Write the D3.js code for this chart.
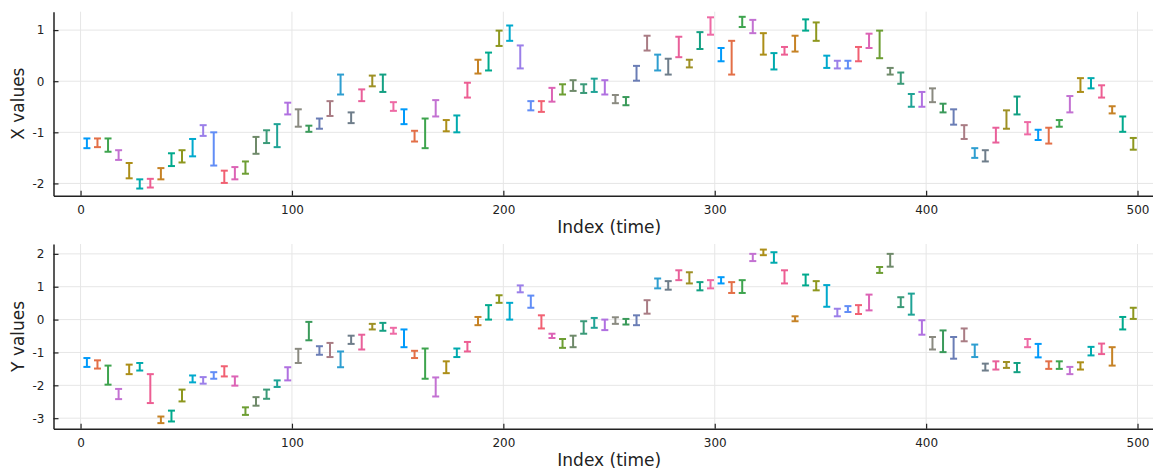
<!DOCTYPE html>
<html lang="en">

<head>
    <meta charset="UTF-8">
    <title>Error bars</title>
    <style>
        body { margin: 0; background: #fff; }
        svg { display: block; font-family: "DejaVu Sans", sans-serif; }
    </style>
</head>

<body>
    <div id="chart"></div>

    <script src="https://d3js.org/d3.v7.min.js"></script>
    <script>
        // time index of each window (centre of 5 samples)
        const timeIndex = [3, 8, 13, 18, 23, 28, 33, 38, 43, 48, 53, 58, 63, 68, 73, 78, 83, 88, 93, 98,
            103, 108, 113, 118, 123, 128, 133, 138, 143, 148, 153, 158, 163, 168, 173, 178, 183, 188, 193, 198,
            203, 208, 213, 218, 223, 228, 233, 238, 243, 248, 253, 258, 263, 268, 273, 278, 283, 288, 293, 298,
            303, 308, 313, 318, 323, 328, 333, 338, 343, 348, 353, 358, 363, 368, 373, 378, 383, 388, 393, 398,
            403, 408, 413, 418, 423, 428, 433, 438, 443, 448, 453, 458, 463, 468, 473, 478, 483, 488, 493, 498]

        const xLow = [-1.31, -1.29, -1.38, -1.54, -1.90, -2.10, -2.08, -1.92, -1.66, -1.59,
            -1.47, -1.07, -1.65, -1.99, -1.92, -1.81, -1.42, -1.21, -1.29, -0.65,
            -0.89, -0.99, -0.93, -0.68, -0.26, -0.82, -0.39, -0.10, -0.21, -0.58,
            -0.84, -1.18, -1.31, -0.69, -0.98, -1.00, -0.32, 0.15, 0.21, 0.69,
            0.79, 0.25, -0.57, -0.60, -0.40, -0.26, -0.19, -0.23, -0.21, -0.26,
            -0.43, -0.47, 0.01, 0.60, 0.21, 0.13, 0.47, 0.27, 0.63, 0.91,
            0.39, 0.13, 1.06, 0.94, 0.52, 0.23, 0.52, 0.58, 0.99, 0.79,
            0.26, 0.25, 0.25, 0.39, 0.65, 0.45, 0.13, -0.05, -0.50, -0.50,
            -0.41, -0.61, -0.85, -1.13, -1.50, -1.57, -1.20, -0.93, -0.65, -1.04,
            -1.15, -1.22, -0.89, -0.61, -0.21, -0.14, -0.32, -0.63, -0.99, -1.34]
        const xHigh = [-1.12, -1.12, -1.12, -1.35, -1.60, -1.92, -1.91, -1.70, -1.41, -1.35,
            -1.13, -0.86, -1.00, -1.75, -1.68, -1.57, -1.09, -0.96, -0.84, -0.42,
            -0.55, -0.87, -0.73, -0.39, 0.13, -0.61, -0.16, 0.11, 0.13, -0.41,
            -0.55, -0.97, -0.73, -0.37, -0.76, -0.67, -0.03, 0.42, 0.56, 0.99,
            1.09, 0.70, -0.39, -0.39, -0.13, -0.06, 0.02, -0.06, 0.05, 0.02,
            -0.27, -0.31, 0.30, 0.89, 0.52, 0.44, 0.87, 0.42, 0.96, 1.25,
            0.65, 0.79, 1.26, 1.20, 0.94, 0.55, 0.67, 0.89, 1.21, 1.15,
            0.50, 0.40, 0.40, 0.67, 0.93, 0.99, 0.26, 0.17, -0.25, -0.21,
            -0.14, -0.44, -0.55, -0.86, -1.31, -1.35, -0.91, -0.57, -0.30, -0.80,
            -0.95, -0.91, -0.76, -0.29, 0.06, 0.06, -0.08, -0.49, -0.69, -1.11]

        const yLow = [-1.44, -1.49, -1.98, -2.42, -1.66, -1.55, -2.54, -3.15, -3.10, -2.49,
            -1.91, -1.95, -1.80, -1.73, -2.01, -2.90, -2.62, -2.41, -2.05, -1.85,
            -1.32, -0.63, -1.07, -1.14, -1.45, -0.74, -0.91, -0.30, -0.34, -0.43,
            -0.84, -1.17, -1.80, -2.34, -1.63, -1.14, -0.97, -0.17, 0.00, 0.51,
            0.00, 0.83, 0.36, -0.27, -0.56, -0.86, -0.84, -0.43, -0.25, -0.32,
            -0.13, -0.15, -0.17, 0.18, 0.95, 0.91, 1.20, 1.10, 0.89, 0.95,
            1.10, 0.81, 0.81, 1.78, 1.96, 1.73, 1.10, -0.05, 1.04, 0.89,
            0.39, 0.10, 0.23, 0.17, 0.28, 1.42, 1.61, 0.38, 0.15, -0.46,
            -0.91, -0.99, -1.19, -0.66, -1.14, -1.55, -1.52, -1.47, -1.60, -0.84,
            -1.15, -1.50, -1.50, -1.66, -1.52, -1.09, -1.05, -1.40, -0.30, 0.02]
        const yHigh = [-1.17, -1.24, -1.40, -2.11, -1.37, -1.32, -1.66, -2.95, -2.77, -2.13,
            -1.70, -1.75, -1.60, -1.42, -1.73, -2.67, -2.36, -2.13, -1.85, -1.45,
            -0.89, -0.07, -0.81, -0.71, -0.97, -0.49, -0.46, -0.13, -0.10, -0.25,
            -0.30, -0.95, -0.88, -1.76, -1.27, -0.88, -0.68, 0.08, 0.44, 0.74,
            0.51, 1.04, 0.73, 0.13, -0.43, -0.59, -0.49, -0.05, 0.05, 0.00,
            0.07, 0.02, 0.13, 0.59, 1.25, 1.17, 1.50, 1.44, 1.14, 1.20,
            1.29, 1.14, 1.20, 2.00, 2.13, 2.05, 1.50, 0.10, 1.37, 1.17,
            1.05, 0.33, 0.41, 0.44, 0.76, 1.60, 2.00, 0.68, 0.79, -0.02,
            -0.53, -0.33, -0.53, -0.27, -0.76, -1.34, -1.27, -1.29, -1.32, -0.59,
            -0.74, -1.27, -1.27, -1.44, -1.30, -0.83, -0.73, -0.84, 0.08, 0.36]

        const xTicks = [0, 100, 200, 300, 400, 500]
        const topTicks = [-2, -1, 0, 1]
        const bottomTicks = [-3, -2, -1, 0, 1, 2]

        // colour cycle of the series (30 colours, repeats)
        const palette = ['#009AFA', '#E36F47', '#3EA44E', '#C371D2', '#AC8E18', '#00AAAE', '#ED5E93', '#C68225',
            '#00A98D', '#8E971E', '#00A9CD', '#9B7FE9', '#618DF6', '#F16072', '#DC63B5', '#6D9E33',
            '#6F8A6A', '#3A9A78', '#1FA396', '#B070E0', '#8A8A80', '#3A9A5A', '#6A7DB5', '#A97C84',
            '#2E9ED0', '#6E7D8A', '#E9609A', '#9E9024', '#14A083', '#EE6AA5']

        const width = 1153
        const height = 469
        const svg = d3.select('#chart').append('svg')
            .attr('width', width)
            .attr('height', height)

        const x = d3.scaleLinear().domain([-12.8, 513]).range([53.5, 1165])

        const panels = [
            { lo: xLow, hi: xHigh, ticks: topTicks, label: 'X values', domain: [-2.24, 1.36], range: [195.7, 11.7] },
            { lo: yLow, hi: yHigh, ticks: bottomTicks, label: 'Y values', domain: [-3.32, 2.3], range: [428.7, 244] }
        ]

        panels.forEach(p => {
            const y = d3.scaleLinear().domain(p.domain).range(p.range)
            const g = svg.append('g')
            const bottom = p.range[0]
            const top = p.range[1]

            // grid
            g.append('g').selectAll('line')
                .data(xTicks)
                .join('line')
                .attr('x1', d => x(d)).attr('x2', d => x(d))
                .attr('y1', top).attr('y2', bottom)
                .attr('stroke', '#e6e6e6')
            g.append('g').selectAll('line')
                .data(p.ticks)
                .join('line')
                .attr('x1', x.range()[0]).attr('x2', x.range()[1])
                .attr('y1', d => y(d)).attr('y2', d => y(d))
                .attr('stroke', '#e6e6e6')

            // axes, ticks pointing inwards
            const xAxis = g.append('g')
                .attr('transform', `translate(0,${bottom})`)
                .call(d3.axisBottom(x).tickValues(xTicks).tickSizeInner(-5).tickSizeOuter(0).tickPadding(10))
            const yAxis = g.append('g')
                .attr('transform', `translate(${x.range()[0]},0)`)
                .call(d3.axisLeft(y).tickValues(p.ticks).tickFormat(d => String(d))
                    .tickSizeInner(-5).tickSizeOuter(0).tickPadding(9))
            ;[xAxis, yAxis].forEach(a => {
                a.select('.domain').attr('stroke', '#222').attr('stroke-width', 1.5)
                a.selectAll('.tick line').attr('stroke', '#222').attr('stroke-width', 1.2)
                a.selectAll('.tick text').attr('font-size', 12).attr('fill', '#222')
                    .attr('font-family', '"DejaVu Sans", sans-serif')
            })

            // error bars
            const bars = g.append('g').selectAll('g')
                .data(timeIndex)
                .join('g')
                .attr('stroke', (_, i) => palette[i % palette.length])
                .attr('stroke-width', 2)
            bars.append('line')
                .attr('x1', d => x(d)).attr('x2', d => x(d))
                .attr('y1', (_, i) => y(p.lo[i])).attr('y2', (_, i) => y(p.hi[i]))
            bars.append('line')
                .attr('x1', d => x(d) - 3.5).attr('x2', d => x(d) + 3.5)
                .attr('y1', (_, i) => y(p.lo[i])).attr('y2', (_, i) => y(p.lo[i]))
            bars.append('line')
                .attr('x1', d => x(d) - 3.5).attr('x2', d => x(d) + 3.5)
                .attr('y1', (_, i) => y(p.hi[i])).attr('y2', (_, i) => y(p.hi[i]))

            // labels
            g.append('text')
                .attr('transform', `translate(24,${(top + bottom) / 2}) rotate(-90)`)
                .attr('text-anchor', 'middle')
                .attr('font-size', 17)
                .attr('fill', '#222')
                .text(p.label)
            g.append('text')
                .attr('x', (x.range()[0] + x.range()[1]) / 2)
                .attr('y', bottom + 37)
                .attr('text-anchor', 'middle')
                .attr('font-size', 17)
                .attr('fill', '#222')
                .text('Index (time)')
        })
    </script>
</body>

</html>
